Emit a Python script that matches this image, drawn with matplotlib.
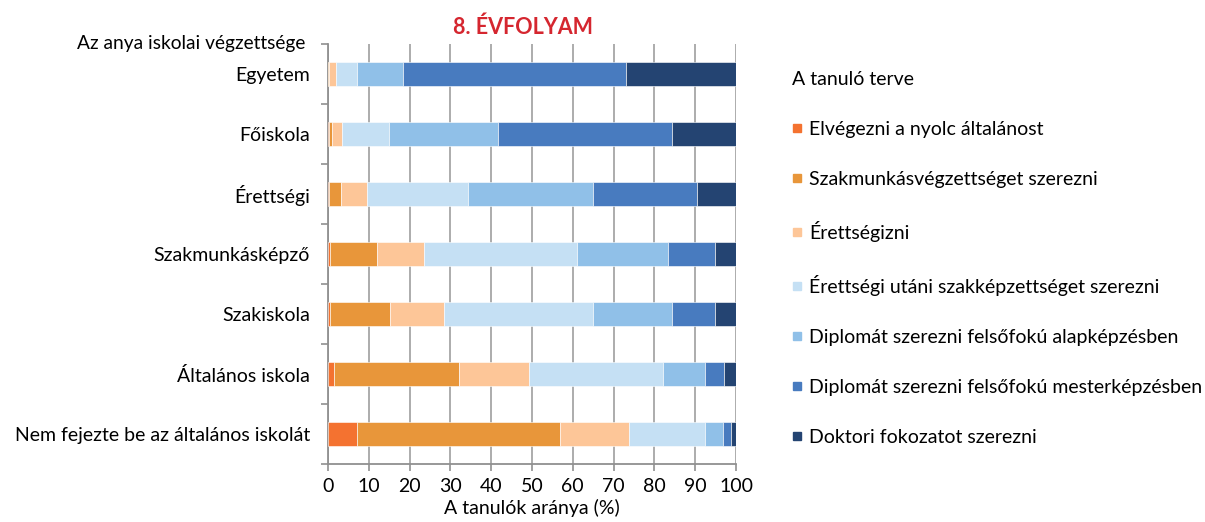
import matplotlib
matplotlib.use("Agg")
import matplotlib.pyplot as plt
from matplotlib.lines import Line2D
import numpy as np

plt.rcParams['font.family'] = ['Lato', 'DejaVu Sans']

categories = ["Egyetem", "Főiskola", "Érettségi", "Szakmunkásképző",
              "Szakiskola", "Általános iskola", "Nem fejezte be az általános iskolát"]

series_names = ["Elvégezni a nyolc általánost",
                "Szakmunkásvégzettséget szerezni",
                "Érettségizni",
                "Érettségi utáni szakképzettséget szerezni",
                "Diplomát szerezni felsőfokú alapképzésben",
                "Diplomát szerezni felsőfokú mesterképzésben",
                "Doktori fokozatot szerezni"]

elvegezni     = [0.1, 0.2, 0.2, 0.4, 0.4, 1.4, 7.0]
szakmunkas    = [0.2, 0.7, 3.0, 11.6, 14.8, 30.6, 49.8]
erettsegizni  = [1.6, 2.5, 6.4, 11.5, 13.3, 17.2, 16.9]
erettsegi_ut  = [5.1, 11.5, 24.7, 37.6, 36.5, 32.8, 18.8]
alapkepzes    = [11.5, 26.8, 30.7, 22.2, 19.3, 10.5, 4.2]
mesterkepzes  = [54.5, 42.6, 25.4, 11.5, 10.5, 4.5, 2.0]
doktori       = [27.0, 15.7, 9.6, 5.2, 5.2, 2.9, 1.2]

series = [elvegezni, szakmunkas, erettsegizni, erettsegi_ut, alapkepzes, mesterkepzes, doktori]
colors = ["#F47230", "#E8963A", "#FDC698", "#C5E0F4", "#90C0E8", "#487BBF", "#244472"]

xticks = list(range(0, 101, 10))

fig = plt.figure(figsize=(12.05, 5.22), dpi=100)
ax = fig.add_axes([328/1205, 1-464/522, 408/1205, 420/522])

y = np.arange(len(categories))
left = np.zeros(len(categories))
handles = []
for vals, col, name in zip(series, colors, series_names):
    ax.barh(y, vals, left=left, height=0.4, color=col, edgecolor='white',
            linewidth=0.4, label=name, zorder=3)
    handles.append(Line2D([], [], linestyle='none', marker='s', markersize=5.2,
                          markerfacecolor=col, markeredgecolor=col, label=name))
    left += np.array(vals)

FS = 14
ax.set_xlim(0, 100)
ax.set_ylim(len(categories)-0.5, -0.5)
ax.set_xticks(xticks)
ax.set_xticklabels([str(t) for t in xticks], fontsize=FS)
ax.set_yticks(y)
ax.set_yticklabels(categories, fontsize=FS)
ax.set_yticks(np.arange(-0.5, len(categories)), minor=True)
ax.tick_params(axis='y', which='major', length=0, pad=13)
ax.tick_params(axis='y', which='minor', length=5, color='#909090', width=1.2)
ax.tick_params(axis='x', which='major', length=5, color='#909090', width=1.2, pad=5)
ax.grid(axis='x', color='#A6A6A6', linewidth=1.3, zorder=0)
for s in ['top', 'right']:
    ax.spines[s].set_visible(False)
for s in ['left', 'bottom']:
    ax.spines[s].set_color('#909090')
    ax.spines[s].set_linewidth(1.3)
ax.set_xlabel("A tanulók aránya (%)", fontsize=FS, labelpad=3)

fig.text(523/1205, 1-27/522, "8. ÉVFOLYAM", color="#D5262F", fontsize=15.5,
         fontweight='bold', ha='center', va='center')
fig.text(305/1205, 1-44/522, "Az anya iskolai végzettsége", fontsize=13.8,
         ha='right', va='center')

leg = fig.legend(handles=handles, loc='upper left', bbox_to_anchor=(776/1205, 1-55/522),
                 title="A tanuló terve", frameon=False, fontsize=FS, title_fontsize=FS,
                 handlelength=0.55, handletextpad=0.35,
                 labelspacing=1.7, alignment='left', borderpad=0.3)

fig.savefig("out.png", dpi=100)
